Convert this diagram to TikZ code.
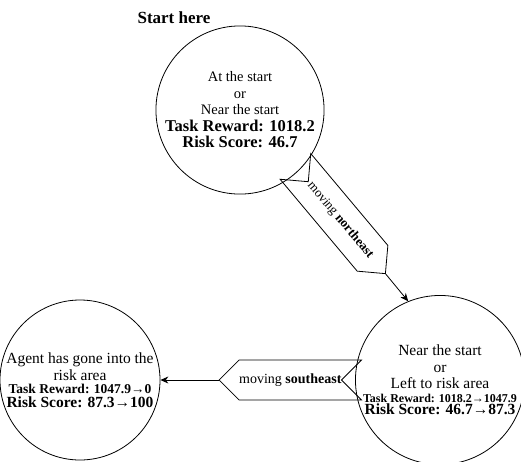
\documentclass[tikz,border=0pt]{standalone}
\usepackage{fontspec}
\setmainfont{Liberation Serif}
\usepackage{tikz}
\usetikzlibrary{shapes.symbols,arrows.meta,positioning,calc}

\begin{document}
\begin{tikzpicture}[
    x=1pt, y=-1pt,
    state/.style = {
        circle,
        draw=black,
        line width=0.8pt,
        minimum size=160pt,
        inner sep=0pt,
        align=center,
        font=\fontsize{15.5}{16.5}\selectfont
    },
    move/.style = {
        signal,
        draw=black,
        line width=0.8pt,
        minimum width=140pt,
        minimum height=40pt,
        inner sep=0pt,
        font=\fontsize{13}{15}\selectfont
    },
    arrow/.style = {
        -{Stealth[length=8pt,width=7pt]},
        line width=0.8pt,
        draw=black
    }
]
    \useasboundingbox (0,0) rectangle (521,461);

    % Node Definitions
    \node [font=\bfseries\fontsize{17}{19}\selectfont] (title) at (174,18) {Start here};

    \node [state, font=\fontsize{14.5}{16.5}\selectfont] (start) at (240,110) {
        At the start\\ or\\ Near the start\\
        {\bfseries\fontsize{16.5}{18}\selectfont Task Reward: 1018.2}\\
        {\bfseries\fontsize{16.5}{18}\selectfont Risk Score: 46.7}
    };

    \node [state] (near) at (440,380) {
        Near the start\\ or\\ Left to risk area\\[-3pt]
        {\bfseries\fontsize{12}{13}\selectfont Task Reward: 1018.2→1047.9}\\[-4pt]
        {\bfseries\fontsize{15.5}{17}\selectfont Risk Score: 46.7→87.3}
    };

    \node [state] (risk) at (80,380) {
        Agent has gone into the\\ risk area\\[-3pt]
        {\bfseries\fontsize{13.5}{15}\selectfont Task Reward: 1047.9→0}\\[-3pt]
        {\bfseries\fontsize{15.5}{17}\selectfont Risk Score: 87.3→100}
    };

    \node [move, signal from=west, signal to=east, rotate=-50] (ne) at (340.4,220) {moving \textbf{northeast}};

    \node [move, signal from=east, signal to=west, font=\fontsize{14}{16}\selectfont] (se) at (290.3,380) {moving \textbf{southeast}};

    \coordinate (ne_hit) at (near.112);

    % Arrows connecting nodes
    \draw [arrow] (ne.east) -- (ne_hit);
    \draw [arrow] (se.west) -- (risk.east);

\end{tikzpicture}
\end{document}
